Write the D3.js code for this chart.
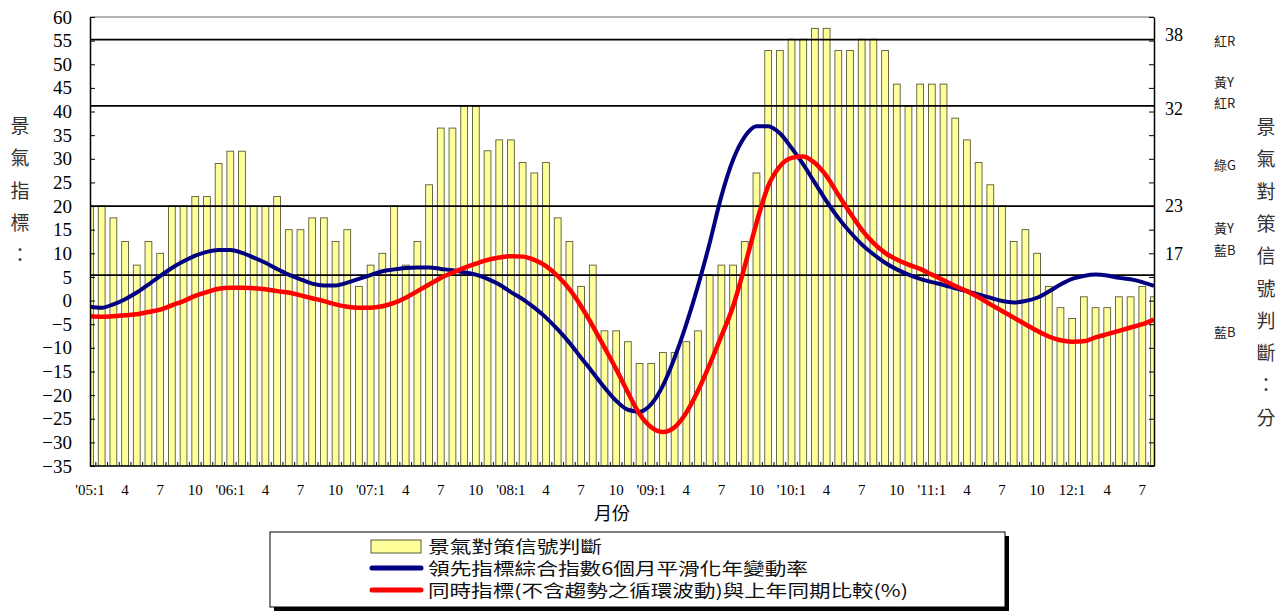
<!DOCTYPE html>
<html>
<head>
<meta charset="utf-8">
<script src="https://cdn.jsdelivr.net/npm/d3@7"></script>
<style>
  body { margin: 0; background: #fff; }
  svg { display: block; }
</style>
</head>
<body>
<svg width="1288" height="612"></svg>
<script>
const width = 1288, height = 612

// monthly data, 2005:1 .. 2012:8
const signalScore = [
  20, 20, 17.5, 12.5, 7.5, 12.5, 10, 20, 20, 22, 22, 29,
  31.6, 31.6, 20, 20, 22, 15, 15, 17.5, 17.5, 12.5, 15, 3,
  7.5, 10, 20, 7.5, 12.5, 24.5, 36.5, 36.5, 41.1, 41.1, 31.7, 34,
  34, 29.2, 27, 29.2, 17.5, 12.5, 3, 7.5, -6.4, -6.4, -8.7, -13.3,
  -13.3, -11, -11, -8.7, -6.4, 5.5, 7.5, 7.5, 12.5, 27, 52.9, 52.9,
  55.3, 55.3, 57.6, 57.6, 52.9, 52.9, 55.3, 55.3, 52.9, 45.8, 41.1, 45.8,
  45.8, 45.8, 38.6, 34, 29.2, 24.5, 20, 12.5, 15, 10, 3, -1.5,
  -3.8, 0.8, -1.5, -1.5, 0.8, 0.8, 3, 0.8
];
const leadingIndex = [
  -1.3, -1.5, -0.8, 0.3, 1.7, 3.4, 5.2, 6.9, 8.3, 9.5, 10.3, 10.7,
  10.7, 10.1, 9.1, 8.0, 6.7, 5.5, 4.5, 3.6, 3.2, 3.2, 3.8, 4.6,
  5.4, 6.2, 6.6, 6.9, 7.0, 7.0, 6.7, 6.4, 6.0, 5.5, 4.6, 3.4,
  1.8, 0.3, -1.5, -3.6, -6.1, -8.9, -12.1, -15.2, -18.4, -21.2, -23.1, -23.5,
  -21.9, -18.0, -12.1, -5.0, 3.1, 12.2, 22.1, 29.8, 34.7, 36.9, 36.9, 35.4,
  32.3, 28.8, 24.9, 21.0, 17.5, 14.5, 11.9, 9.8, 8.0, 6.6, 5.5, 4.6,
  3.9, 3.3, 2.6, 2.0, 1.3, 0.6, -0.1, -0.4, -0.1, 0.6, 1.9, 3.4,
  4.6, 5.2, 5.5, 5.3, 4.8, 4.5, 3.9, 3.1
];
const coincidentIndex = [
  -3.3, -3.4, -3.3, -3.1, -2.9, -2.4, -1.9, -1.0, -0.1, 1.0, 1.8, 2.5,
  2.7, 2.7, 2.6, 2.4, 2.0, 1.7, 1.1, 0.5, -0.1, -0.8, -1.3, -1.5,
  -1.5, -1.2, -0.5, 0.6, 2.0, 3.4, 4.8, 5.9, 6.9, 7.8, 8.6, 9.1,
  9.4, 9.3, 8.6, 7.3, 5.2, 2.4, -1.2, -5.4, -9.9, -14.5, -19.4, -24.0,
  -26.8, -27.8, -26.8, -23.7, -19.1, -13.5, -7.5, -1.2, 7.3, 16.4, 24.2, 28.4,
  30.2, 30.5, 29.1, 26.3, 22.4, 18.6, 15.0, 12.2, 10.1, 8.7, 7.6, 6.7,
  5.5, 4.3, 3.1, 2.0, 0.7, -0.8, -2.2, -3.6, -5.0, -6.4, -7.6, -8.4,
  -8.7, -8.6, -7.8, -7.1, -6.4, -5.7, -5.0, -4.0
];
const xTickLabels = [
  "'05:1", "4", "7", "10", "'06:1", "4", "7", "10", "'07:1", "4", "7", "10",
  "'08:1", "4", "7", "10", "'09:1", "4", "7", "10", "'10:1", "4", "7", "10",
  "'11:1", "4", "7", "10", "12:1", "4", "7"
];
// horizontal signal boundary lines (left-scale values) and right-side score labels
const boundaryLines = [55.2, 41.2, 20, 5.4];
const scoreLabels = ['38', '32', '23', '17'];
const scoreLabelPos = [56.2, 40.6, 20, 9.9];
const lightLabels = ['紅R', '黃Y', '紅R', '綠G', '黃Y', '藍B', '藍B'];
const lightLabelPos = [55, 46.2, 41.7, 28.6, 15.4, 10.8, -6.7];
const legendLabels = ['景氣對策信號判斷', '領先指標綜合指數6個月平滑化年變動率', '同時指標(不含趨勢之循環波動)與上年同期比較(%)'];

const pLeft = 90, pRight = 1154, pTop = 17, pBottom = 466;
const serif = '"Liberation Serif", "Times New Roman", serif';
const cjk = '"Noto Sans CJK TC", "Noto Sans CJK SC", sans-serif';

const svg = d3.select('svg');

const x = d3.scaleLinear().domain([0, signalScore.length - 1]).range([pLeft, pRight]);
const y = d3.scaleLinear().domain([-35, 60]).range([pBottom, pTop]);

svg.append('clipPath').attr('id', 'plot')
  .append('rect').attr('x', pLeft).attr('y', pTop).attr('width', pRight - pLeft).attr('height', pBottom - pTop);

const plot = svg.append('g').attr('clip-path', 'url(#plot)');

// bars (grow from the bottom of the plot)
const barW = 6.8;
plot.selectAll('rect.bar')
  .data(signalScore)
  .enter().append('rect')
  .attr('class', 'bar')
  .attr('x', (d, i) => x(i) - barW / 2)
  .attr('y', d => y(d))
  .attr('width', barW)
  .attr('height', d => y(-35) - y(d))
  .attr('fill', '#ffff99')
  .attr('stroke', '#5a5a3a')
  .attr('stroke-width', 0.9);

// boundary lines
plot.selectAll('line.bound')
  .data(boundaryLines)
  .enter().append('line')
  .attr('x1', pLeft).attr('x2', pRight)
  .attr('y1', d => y(d)).attr('y2', d => y(d))
  .attr('stroke', '#000').attr('stroke-width', 1.8);

// index lines
const line = d3.line().x((d, i) => x(i)).y(d => y(d)).curve(d3.curveMonotoneX);
plot.append('path').datum(leadingIndex)
  .attr('d', line).attr('fill', 'none').attr('stroke', '#000080').attr('stroke-width', 4);
plot.append('path').datum(coincidentIndex)
  .attr('d', line).attr('fill', 'none').attr('stroke', '#ff0000').attr('stroke-width', 4.5);

// frame
svg.append('line').attr('x1', pLeft).attr('x2', pRight).attr('y1', pTop).attr('y2', pTop)
  .attr('stroke', '#999').attr('stroke-width', 1.5);

// left axis
const yAxisL = svg.append('g').attr('transform', `translate(${pLeft},0)`)
  .call(d3.axisLeft(y).tickValues(d3.range(-35, 61, 5)).tickSizeInner(-5).tickSizeOuter(0).tickPadding(18));
yAxisL.select('.domain').attr('stroke-width', 1.5);
yAxisL.selectAll('text').style('font-family', serif).style('font-size', '19px').attr('fill', '#000');

// right axis
const yAxisR = svg.append('g').attr('transform', `translate(${pRight},0)`)
  .call(d3.axisRight(y).tickValues(d3.range(-35, 61, 5)).tickSizeInner(-5).tickSizeOuter(0).tickFormat(''));
yAxisR.select('.domain').attr('stroke-width', 1.5);

// bottom axis: month ticks between bars + labels every 3 months
const xAxis = svg.append('g').attr('transform', `translate(0,${pBottom})`);
xAxis.append('line').attr('x1', pLeft).attr('x2', pRight).attr('stroke', '#000').attr('stroke-width', 1.5);
xAxis.selectAll('line.tick')
  .data(d3.range(signalScore.length - 1))
  .enter().append('line')
  .attr('class', 'tick')
  .attr('x1', d => x(d + 0.5)).attr('x2', d => x(d + 0.5))
  .attr('y1', 0).attr('y2', -4)
  .attr('stroke', '#000');
xAxis.selectAll('text')
  .data(xTickLabels)
  .enter().append('text')
  .attr('x', (d, i) => x(i * 3))
  .attr('y', 29)
  .attr('text-anchor', 'middle')
  .style('font-family', serif)
  .style('font-size', '15px')
  .text(d => d);

svg.append('text')
  .attr('x', 612).attr('y', 520)
  .attr('text-anchor', 'middle')
  .style('font-family', cjk).style('font-size', '18px')
  .text('月份');

// left title (vertical)
svg.append('g').selectAll('text')
  .data(Array.from('景氣指標：'))
  .enter().append('text')
  .attr('x', 20).attr('y', (d, i) => 133 + i * 32.3)
  .attr('text-anchor', 'middle')
  .style('font-family', cjk).style('font-size', '19px').attr('fill', '#333')
  .text(d => d);

// right title (vertical)
svg.append('g').selectAll('text')
  .data(Array.from('景氣對策信號判斷：分'))
  .enter().append('text')
  .attr('x', 1266).attr('y', (d, i) => 134 + i * 32.3)
  .attr('text-anchor', 'middle')
  .style('font-family', cjk).style('font-size', '19px').attr('fill', '#333')
  .text(d => d);

// right score labels
svg.selectAll('text.score')
  .data(scoreLabels)
  .enter().append('text')
  .attr('class', 'score')
  .attr('x', 1165).attr('y', (d, i) => y(scoreLabelPos[i]) + 6)
  .style('font-family', serif).style('font-size', '18px')
  .text(d => d);

// light labels
svg.selectAll('text.light')
  .data(lightLabels)
  .enter().append('text')
  .attr('class', 'light')
  .attr('x', 1214).attr('y', (d, i) => y(lightLabelPos[i]) + 5)
  .style('font-family', cjk).style('font-size', '13px').attr('fill', '#222')
  .text(d => d);

// legend
const lg = svg.append('g');
lg.append('rect').attr('x', 274).attr('y', 536).attr('width', 735).attr('height', 75).attr('fill', '#000');
lg.append('rect').attr('x', 270).attr('y', 532).attr('width', 735).attr('height', 75)
  .attr('fill', '#fff').attr('stroke', '#000').attr('stroke-width', 1);
lg.append('rect').attr('x', 371).attr('y', 540).attr('width', 50).attr('height', 13)
  .attr('fill', '#ffff99').attr('stroke', '#5a5a3a');
lg.append('line').attr('x1', 372).attr('x2', 421).attr('y1', 568).attr('y2', 568)
  .attr('stroke', '#000080').attr('stroke-width', 5).attr('stroke-linecap', 'round');
lg.append('line').attr('x1', 372).attr('x2', 421).attr('y1', 590).attr('y2', 590)
  .attr('stroke', '#ff0000').attr('stroke-width', 5).attr('stroke-linecap', 'round');
const legendWidths = [174, 380, 480];
lg.selectAll('text.leg')
  .data(legendLabels)
  .enter().append('text')
  .attr('class', 'leg')
  .attr('x', 428).attr('y', (d, i) => 553 + i * 22)
  .attr('textLength', (d, i) => legendWidths[i])
  .attr('lengthAdjust', 'spacingAndGlyphs')
  .style('font-family', cjk).style('font-size', '17px').attr('fill', '#111')
  .text(d => d);
</script>
</body>
</html>
